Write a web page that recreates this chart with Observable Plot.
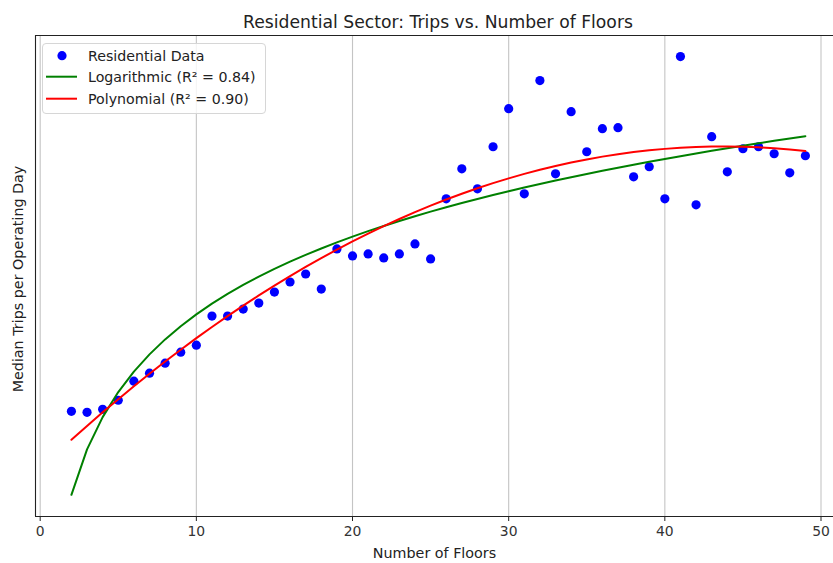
<!DOCTYPE html>
<html><head><meta charset="utf-8">
<script src="https://cdn.jsdelivr.net/npm/d3@7"></script>
<script src="https://cdn.jsdelivr.net/npm/@observablehq/plot@0.6"></script>
<style>
body{margin:0;background:#fff;font-family:"DejaVu Sans",sans-serif;}
#wrap{position:relative;width:833px;height:563px;overflow:hidden;}
#legend{position:absolute;left:42px;top:43px;width:222px;height:69px;border:1px solid #d6d6d6;border-radius:4px;background:rgba(255,255,255,0.8);}
#legend svg{display:block;}
</style></head><body>
<div id="wrap"><div id="chart"></div><div id="legend"></div></div>
<script>
// ---- data (y in arbitrary units; the chart has no y tick labels)
const floors = [2,3,4,5,6,7,8,9,10,11,12,13,14,15,16,17,18,19,20,21,22,23,24,25,26,27,28,29,30,31,32,33,34,35,36,37,38,39,40,41,42,43,44,45,46,47,48,49];
const medianTrips = [105,104,107,116,135,143,153,164,171,200,200,207,213,224,234,242,227,267,260,262,258,262,272,257,317,347,327,369,407,322,435,342,404,364,387,388,339,349,317,459,311,379,344,367,369,362,343,360];
const xTicks = [0,10,20,30,40,50];
const seriesNames = ["Residential Data","Logarithmic (R² = 0.84)","Polynomial (R² = 0.90)"];
const seriesColors = ["#0000ff","#008000","#ff0000"];
const titleText = "Residential Sector: Trips vs. Number of Floors";
const xLabel = "Number of Floors";
const yLabel = "Median Trips per Operating Day";

// ---- fits computed from the data (least squares)
function logFit(xs, ys){
  const X = xs.map(Math.log), n = xs.length;
  const mx = d3.mean(X), my = d3.mean(ys);
  let sxy=0,sxx=0;
  for(let i=0;i<n;i++){sxy+=(X[i]-mx)*(ys[i]-my);sxx+=(X[i]-mx)**2;}
  const b=sxy/sxx, a=my-b*mx;
  return x=>a+b*Math.log(x);
}
function polyFit(xs, ys, deg){
  const m=deg+1, A=Array.from({length:m},()=>new Array(m+1).fill(0));
  for(let i=0;i<xs.length;i++){
    for(let r=0;r<m;r++){
      for(let c=0;c<m;c++) A[r][c]+=Math.pow(xs[i],r+c);
      A[r][m]+=ys[i]*Math.pow(xs[i],r);
    }
  }
  for(let k=0;k<m;k++){
    let p=k; for(let r=k+1;r<m;r++) if(Math.abs(A[r][k])>Math.abs(A[p][k])) p=r;
    [A[k],A[p]]=[A[p],A[k]];
    for(let r=0;r<m;r++){ if(r===k) continue; const f=A[r][k]/A[k][k]; for(let c=k;c<=m;c++) A[r][c]-=f*A[k][c]; }
  }
  const coef=A.map((row,k)=>row[m]/row[k]);
  return x=>coef.reduce((s,c,k)=>s+c*Math.pow(x,k),0);
}
const fLog = logFit(floors, medianTrips);
const fPoly = polyFit(floors, medianTrips, 2);

const points = floors.map((f,i)=>({floors:f, trips:medianTrips[i]}));
const logLine = floors.map(f=>({floors:f, trips:fLog(f)}));
const polyLine = floors.map(f=>({floors:f, trips:fPoly(f)}));

const xDomain = [-0.3, 50.8];
const yDomain = [0, 480];
const font = "DejaVu Sans, sans-serif";

const chart = Plot.plot({
  width: 833, height: 563,
  marginLeft: 35, marginRight: 0, marginTop: 35, marginBottom: 47,
  style: {fontFamily: font, fontSize: "13.9px", background: "#fff", color: "#222"},
  x: {domain: xDomain, ticks: xTicks, label: null},
  y: {domain: yDomain, label: null, axis: null},
  marks: [
    Plot.gridX(xTicks, {stroke: "#b0b0b0", strokeOpacity: 0.75, strokeWidth: 1.1}),
    Plot.dot(points, {x: "floors", y: "trips", r: 4.6, fill: seriesColors[0], stroke: "none"}),
    Plot.line(logLine, {x: "floors", y: "trips", stroke: seriesColors[1], strokeWidth: 2}),
    Plot.line(polyLine, {x: "floors", y: "trips", stroke: seriesColors[2], strokeWidth: 2}),
    Plot.ruleX([xDomain[0]], {stroke: "#222", strokeWidth: 1.1}),
    Plot.ruleY([yDomain[0]], {stroke: "#222", strokeWidth: 1.1}),
    Plot.ruleY([yDomain[1]], {stroke: "#222", strokeWidth: 1.1}),
    Plot.axisX(xTicks, {tickSize: 5, tickPadding: 5, fontSize: 13.9, stroke: "#222", fill: "#333", label: null}),
    Plot.text([xLabel], {frameAnchor: "bottom", dy: 41, fontSize: 14.3, fill: "#222"}),
    Plot.text([yLabel], {frameAnchor: "left", textAnchor: "middle", lineAnchor: "middle", rotate: -90, dx: -17, dy: 3, fontSize: 14.3, fill: "#222"}),
    Plot.text([titleText], {frameAnchor: "top", lineAnchor: "bottom", dy: -8, dx: 3.5, fontSize: 17.2, fill: "#222"})
  ]
});
document.getElementById("chart").appendChild(chart);

// ---- legend
const lg = d3.select("#legend").append("svg").attr("width", 222).attr("height", 69);
const rows = [11.7, 32.7, 54.7];
seriesNames.forEach((name,i)=>{
  if(i===0){
    lg.append("circle").attr("cx",19).attr("cy",rows[i]).attr("r",4.6).attr("fill",seriesColors[i]);
  } else {
    lg.append("line").attr("x1",3).attr("x2",34).attr("y1",rows[i]).attr("y2",rows[i]).attr("stroke",seriesColors[i]).attr("stroke-width",2);
  }
  lg.append("text").attr("x",45).attr("y",rows[i]+5).attr("font-size","14.2px").attr("font-family",font).attr("fill","#222").text(name);
});
</script>
</body></html>
